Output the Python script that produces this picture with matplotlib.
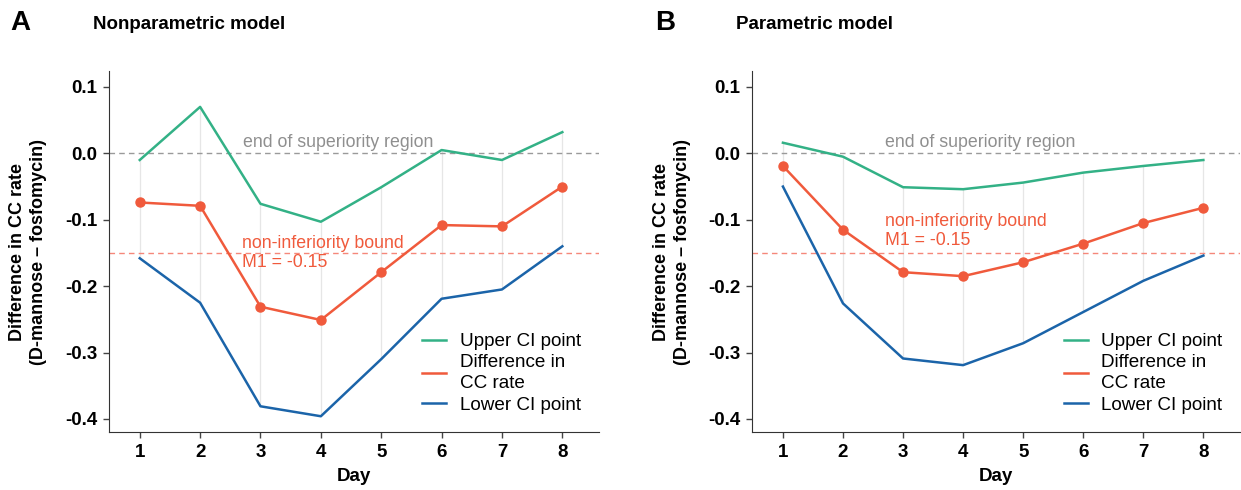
import matplotlib.pyplot as plt

plt.rcParams['font.family'] = ['Liberation Sans', 'DejaVu Sans']

days = [1, 2, 3, 4, 5, 6, 7, 8]

# Nonparametric model (panel A)
np_upper = [-0.010, 0.070, -0.076, -0.103, -0.051, 0.005, -0.010, 0.032]
np_diff = [-0.074, -0.079, -0.231, -0.251, -0.179, -0.108, -0.110, -0.050]
np_lower = [-0.158, -0.225, -0.381, -0.396, -0.310, -0.219, -0.205, -0.140]

# Parametric model (panel B)
p_upper = [0.016, -0.005, -0.051, -0.054, -0.044, -0.029, -0.019, -0.010]
p_diff = [-0.019, -0.115, -0.179, -0.185, -0.164, -0.136, -0.105, -0.082]
p_lower = [-0.050, -0.226, -0.309, -0.319, -0.286, -0.239, -0.192, -0.154]

y_ticks = [0.1, 0.0, -0.1, -0.2, -0.3, -0.4]
superiority = 0.0
margin = -0.15

GREEN = "#33b186"
RED = "#f05a3c"
BLUE = "#1b64a9"


def draw_panel(ax, upper, diff, lower, ni_text_y):
    # faint CI spans at each day
    ax.vlines(days, lower, upper, color="#e6e6e6", lw=0.9, zorder=0)
    ax.axhline(superiority, color="#9a9a9a", lw=1.0, ls=(0, (4, 3)), zorder=1)
    ax.axhline(margin, color="#f5877a", lw=1.0, ls=(0, (4, 3)), zorder=1)

    ax.plot(days, upper, color=GREEN, lw=1.8, label="Upper CI point", zorder=3)
    ax.plot(days, diff, color=RED, lw=1.8, label="Difference in\nCC rate", zorder=4)
    ax.plot(days, diff, "o", color=RED, markersize=6.5, zorder=5)
    ax.plot(days, lower, color=BLUE, lw=1.8, label="Lower CI point", zorder=3)

    ax.text(4.28, 0.017, "end of superiority region", color="#8f8f8f",
            fontsize=12.8, ha="center", va="center")
    ax.text(2.70, ni_text_y, "non-inferiority bound\nM1 = -0.15", color=RED,
            fontsize=12.8, ha="left", va="center", linespacing=1.15)

    ax.set_xlim(0.49, 8.61)
    ax.set_ylim(-0.42, 0.124)
    ax.set_xticks(days)
    ax.set_yticks(y_ticks)
    ax.set_yticklabels([f"{v:.1f}".replace("-0.0", "0.0") for v in y_ticks])
    for lab in ax.get_xticklabels() + ax.get_yticklabels():
        lab.set_fontweight("bold")
        lab.set_fontsize(13.5)
    ax.tick_params(direction="out", length=4.5, width=1, color="#444444", pad=4)
    ax.spines["top"].set_visible(False)
    ax.spines["right"].set_visible(False)
    ax.spines["left"].set_color("#333333")
    ax.spines["bottom"].set_color("#333333")
    ax.set_xlabel("Day", fontsize=13.5, fontweight="bold", labelpad=5)
    ax.set_ylabel("Difference in CC rate\n(D-mannose \u2013 fosfomycin)",
                  fontsize=13, fontweight="bold", linespacing=1.3)
    ax.yaxis.set_label_coords(-0.126, 0.5)
    leg = ax.legend(loc="lower left", bbox_to_anchor=(0.615, 0.02), frameon=False,
                    fontsize=13.6, handlelength=1.3, handletextpad=0.7,
                    labelspacing=0.22, borderaxespad=0.2)
    for t in leg.get_texts():
        t.set_linespacing(1.3)


fig = plt.figure(figsize=(12.41, 4.9), dpi=100)
ax1 = fig.add_axes([0.0878, 0.118, 0.395, 0.737])
ax2 = fig.add_axes([0.6062, 0.118, 0.393, 0.737])

draw_panel(ax1, np_upper, np_diff, np_lower, -0.150)
draw_panel(ax2, p_upper, p_diff, p_lower, -0.117)

fig.text(0.008, 0.954, "A", fontsize=20, fontweight="bold", va="center")
fig.text(0.075, 0.949, "Nonparametric model", fontsize=13.5, fontweight="bold",
         va="center")
fig.text(0.528, 0.954, "B", fontsize=20, fontweight="bold", va="center")
fig.text(0.593, 0.949, "Parametric model", fontsize=13.5, fontweight="bold",
         va="center")

fig.savefig("out.png", dpi=100)
